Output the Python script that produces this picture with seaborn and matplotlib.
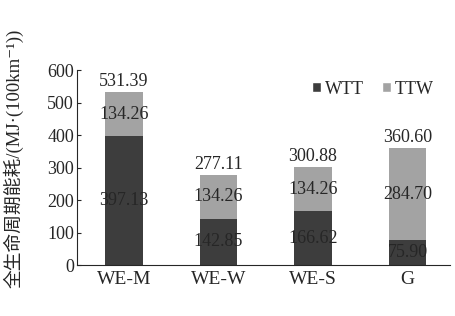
import numpy as np
import pandas as pd
import matplotlib
matplotlib.use('Agg')
import matplotlib.pyplot as plt
import seaborn as sns
from matplotlib.patches import Patch

categories = ['WE-M', 'WE-W', 'WE-S', 'G']
wtt = [397.13, 142.85, 166.62, 75.90]
ttw = [134.26, 134.26, 134.26, 284.70]
total = [531.39, 277.11, 300.88, 360.60]

sns.set_style('ticks')
plt.rcParams['font.family'] = ['Liberation Serif', 'Noto Sans CJK SC', 'DejaVu Serif']

wtt_color = '#3d3d3d'
ttw_color = '#a3a3a3'

df = pd.DataFrame({'cat': categories, 'wtt': wtt, 'ttw': ttw, 'total': total})

fig = plt.figure(figsize=(4.55, 3.16), dpi=100)
ax = fig.add_axes([0.169, 0.161, 0.82, 0.617])

sns.barplot(data=df, x='cat', y='total', color=ttw_color, width=0.4,
            saturation=1, linewidth=0, ax=ax)
sns.barplot(data=df, x='cat', y='wtt', color=wtt_color, width=0.4,
            saturation=1, linewidth=0, ax=ax)

fs = 13
for i in range(len(categories)):
    ax.text(i, total[i] + 6, '%.2f' % total[i], ha='center', va='bottom', fontsize=fs)
    ax.text(i, wtt[i] + ttw[i] / 2, '%.2f' % ttw[i], ha='center', va='center', fontsize=fs)
    ax.text(i, wtt[i] / 2, '%.2f' % wtt[i], ha='center', va='center', fontsize=fs)

ax.set_ylim(0, 600)
ax.set_xlim(-0.5, 3.45)
ax.set_yticks(np.arange(0, 601, 100))
ax.set_xlabel('')
ax.set_ylabel('全生命周期能耗/(MJ·(100km⁻¹))', fontsize=13.5)
ax.yaxis.set_label_coords(-0.142, 0.55)
ax.tick_params(axis='y', direction='in', length=3, labelsize=fs, pad=2)
ax.tick_params(axis='x', length=0, labelsize=14, pad=4)
sns.despine(ax=ax)

handles = [Patch(facecolor=wtt_color, label='WTT'),
           Patch(facecolor=ttw_color, label='TTW')]
ax.legend(handles=handles, loc='upper right', ncol=2, frameon=False,
          fontsize=fs, handlelength=0.5, handleheight=0.5, handletextpad=0.2,
          columnspacing=1.0, bbox_to_anchor=(1.0, 1.03))

fig.savefig('out.png', dpi=100)
